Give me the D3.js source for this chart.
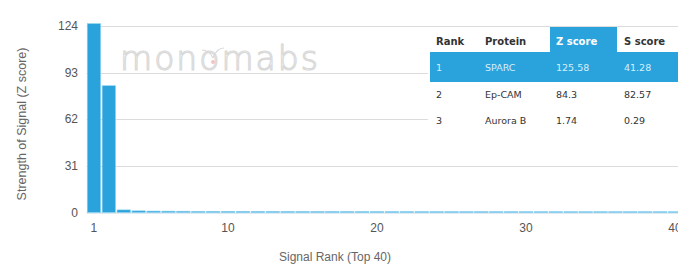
<!DOCTYPE html>
<html>
<head>
<meta charset="utf-8">
<script src="https://cdn.jsdelivr.net/npm/d3@7"></script>
<style>
  body { margin: 0; background: #fff; }
  svg { display: block; font-family: "Liberation Sans", Arial, sans-serif; }
</style>
</head>
<body>
<script>
// signal rank (top 40) and z scores
var ranks = d3.range(1, 41);
var zScores = [125.58, 84.3, 1.74, 1.1, 0.95, 0.9, 0.85, 0.8, 0.8, 0.78,
               0.76, 0.75, 0.74, 0.72, 0.7, 0.7, 0.69, 0.68, 0.67, 0.66,
               0.65, 0.65, 0.64, 0.63, 0.62, 0.62, 0.61, 0.6, 0.6, 0.59,
               0.58, 0.58, 0.57, 0.56, 0.56, 0.55, 0.55, 0.54, 0.54, 0.53];
var yTicks = [0, 31, 62, 93, 124];
var xTicks = [1, 10, 20, 30, 40];

// table values
var tableHead = ["Rank", "Protein", "Z score", "S score"];
var tableRank = ["1", "2", "3"];
var tableProtein = ["SPARC", "Ep-CAM", "Aurora B"];
var tableZ = ["125.58", "84.3", "1.74"];
var tableS = ["41.28", "82.57", "0.29"];

var W = 678, H = 264;
// plot area (don't use "top" - window.top is read only)
var plotL = 86.5, plotR = 682.5, plotT = 26, plotB = 212.5;
var blue = "#2aa3dd";

var svg = d3.select("body").append("svg")
    .attr("width", W)
    .attr("height", H);

var x = d3.scaleBand()
    .domain(ranks)
    .range([plotL, plotR])
    .paddingInner(0.1)
    .paddingOuter(0.05);

var y = d3.scaleLinear()
    .domain([0, 124])
    .range([plotB, plotT]);

// gridlines
svg.append("g")
  .selectAll("line")
  .data(yTicks.slice(1))
  .enter().append("line")
    .attr("x1", plotL)
    .attr("x2", W)
    .attr("y1", function(d) { return Math.round(y(d)) + 0.5; })
    .attr("y2", function(d) { return Math.round(y(d)) + 0.5; })
    .attr("stroke", "#dcdcdc")
    .attr("stroke-width", 1);

// watermark
svg.append("text")
    .attr("x", 120)
    .attr("y", 70)
    .attr("font-family", "'DejaVu Sans', sans-serif")
    .attr("font-size", 33)
    .attr("font-weight", 200)
    .attr("letter-spacing", 2)
    .attr("fill", "none")
    .attr("stroke", "#d9d9d9")
    .attr("stroke-width", 1.2)
    .text("monomabs");
svg.append("path")
    .attr("d", "M213,58 C210,52 206,50 202,50 M213,58 C216,50 220,48 224,48")
    .attr("fill", "none")
    .attr("stroke", "#d9d9d9")
    .attr("stroke-width", 1.2);
svg.append("circle")
    .attr("cx", 213).attr("cy", 62).attr("r", 2)
    .attr("fill", "#f2c4c4");

// x axis line
svg.append("line")
    .attr("x1", plotL)
    .attr("x2", W)
    .attr("y1", plotB + 0.5)
    .attr("y2", plotB + 0.5)
    .attr("stroke", "#c0d8e4");

// bars
svg.append("g")
  .selectAll("rect")
  .data(zScores)
  .enter().append("rect")
    .attr("x", function(d, i) { return x(ranks[i]); })
    .attr("width", x.bandwidth())
    .attr("y", function(d) { return y(d); })
    .attr("height", function(d) { return plotB - y(d); })
    .attr("fill", blue)
    .attr("stroke", "#8fd2f2")
    .attr("stroke-width", 0.6);

// y tick labels
svg.append("g")
  .selectAll("text")
  .data(yTicks)
  .enter().append("text")
    .attr("x", 78)
    .attr("y", function(d) { return y(d) + 4; })
    .attr("text-anchor", "end")
    .attr("font-size", 12)
    .attr("fill", "#555")
    .text(function(d) { return d; });

// x tick labels
svg.append("g")
  .selectAll("text")
  .data(xTicks)
  .enter().append("text")
    .attr("x", function(d) { return x(d) + x.bandwidth() / 2; })
    .attr("y", 232)
    .attr("text-anchor", "middle")
    .attr("font-size", 12)
    .attr("fill", "#555")
    .text(function(d) { return d; });

// axis titles
svg.append("text")
    .attr("x", 335)
    .attr("y", 261)
    .attr("text-anchor", "middle")
    .attr("font-size", 12)
    .attr("fill", "#666")
    .text("Signal Rank (Top 40)");

svg.append("text")
    .attr("transform", "translate(26,124) rotate(-90)")
    .attr("text-anchor", "middle")
    .attr("font-size", 12.5)
    .attr("fill", "#666")
    .text("Strength of Signal (Z score)");

// table
var tbl = svg.append("g");
var colX = [436, 485, 556, 624];
var rowY = [41, 67, 94, 120];

tbl.append("rect")
    .attr("x", 428).attr("y", 28)
    .attr("width", W - 428).attr("height", 106)
    .attr("fill", "#fff");
tbl.append("rect")
    .attr("x", 550).attr("y", 27)
    .attr("width", 67).attr("height", 26)
    .attr("fill", blue);
tbl.append("rect")
    .attr("x", 430).attr("y", 52)
    .attr("width", W - 430).attr("height", 30)
    .attr("fill", blue);

tbl.selectAll(".head")
  .data(tableHead)
  .enter().append("text")
    .attr("class", "head")
    .attr("x", function(d, i) { return colX[i]; })
    .attr("y", rowY[0] + 3.5)
    .attr("font-family", "'DejaVu Sans', sans-serif")
    .attr("font-size", 10)
    .attr("font-weight", "bold")
    .attr("fill", function(d, i) { return i == 2 ? "#fff" : "#333"; })
    .text(function(d) { return d; });

var rows = tableRank.map(function(r, i) {
  return [r, tableProtein[i], tableZ[i], tableS[i]];
});

rows.forEach(function(row, r) {
  tbl.selectAll(".r" + r)
    .data(row)
    .enter().append("text")
      .attr("class", "r" + r)
      .attr("x", function(d, i) { return colX[i]; })
      .attr("y", rowY[r + 1] + 3.5)
      .attr("font-family", "'DejaVu Sans', sans-serif")
      .attr("font-size", 9.5)
      .attr("fill", r == 0 ? "#d8eefa" : "#333")
      .text(function(d) { return d; });
});
</script>
</body>
</html>
